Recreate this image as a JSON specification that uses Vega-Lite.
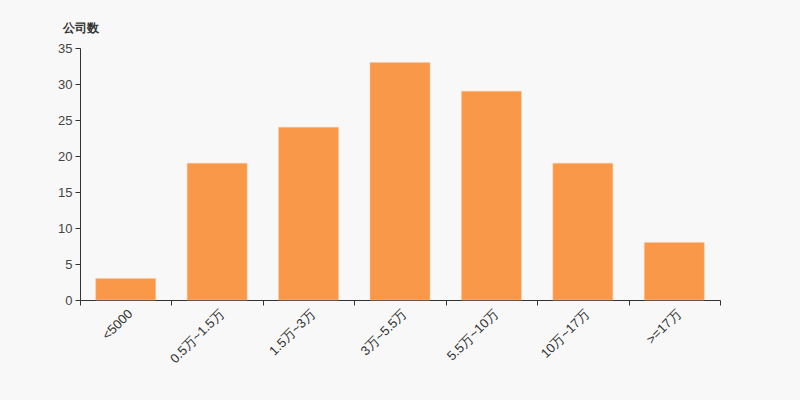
{
  "$schema": "https://vega.github.io/schema/vega-lite/v6.json",
  "autosize": {"type": "none"},
  "width": 640,
  "height": 252,
  "padding": {"left": 80, "top": 48, "right": 80, "bottom": 100},
  "background": "#f8f8f8",
  "config": {"view": {"stroke": null}, "font": "Liberation Sans"},
  "data": {"values": [
    {"range": "<5000", "count": 3},
    {"range": "0.5万~1.5万", "count": 19},
    {"range": "1.5万~3万", "count": 24},
    {"range": "3万~5.5万", "count": 33},
    {"range": "5.5万~10万", "count": 29},
    {"range": "10万~17万", "count": 19},
    {"range": ">=17万", "count": 8}
  ]},
  "mark": {"type": "bar", "color": "#f89848", "stroke": "#fbc9a0", "strokeWidth": 0.5, "width": {"band": 0.656}},
  "encoding": {
    "x": {
      "field": "range", "type": "nominal", "sort": null,
      "scale": {"paddingInner": 0, "paddingOuter": 0},
      "axis": {
        "title": null, "labelAngle": -45, "labelFontSize": 13, "labelColor": "#333",
        "domainColor": "#333", "tickColor": "#333", "tickSize": 5, "tickBand": "extent",
        "labelPadding": 2
      }
    },
    "y": {
      "field": "count", "type": "quantitative",
      "scale": {"domain": [0, 35]},
      "axis": {
        "values": [0, 5, 10, 15, 20, 25, 30, 35],
        "grid": false, "title": "公司数", "titleAngle": 0, "titleX": -18, "titleY": -21,
        "titleAlign": "left", "titleBaseline": "middle", "titleFontSize": 12, "titleFontWeight": "bold",
        "titleColor": "#333", "labelFontSize": 13, "labelColor": "#444",
        "domainColor": "#333", "tickColor": "#333", "tickSize": 5, "labelPadding": 3
      }
    }
  }
}
